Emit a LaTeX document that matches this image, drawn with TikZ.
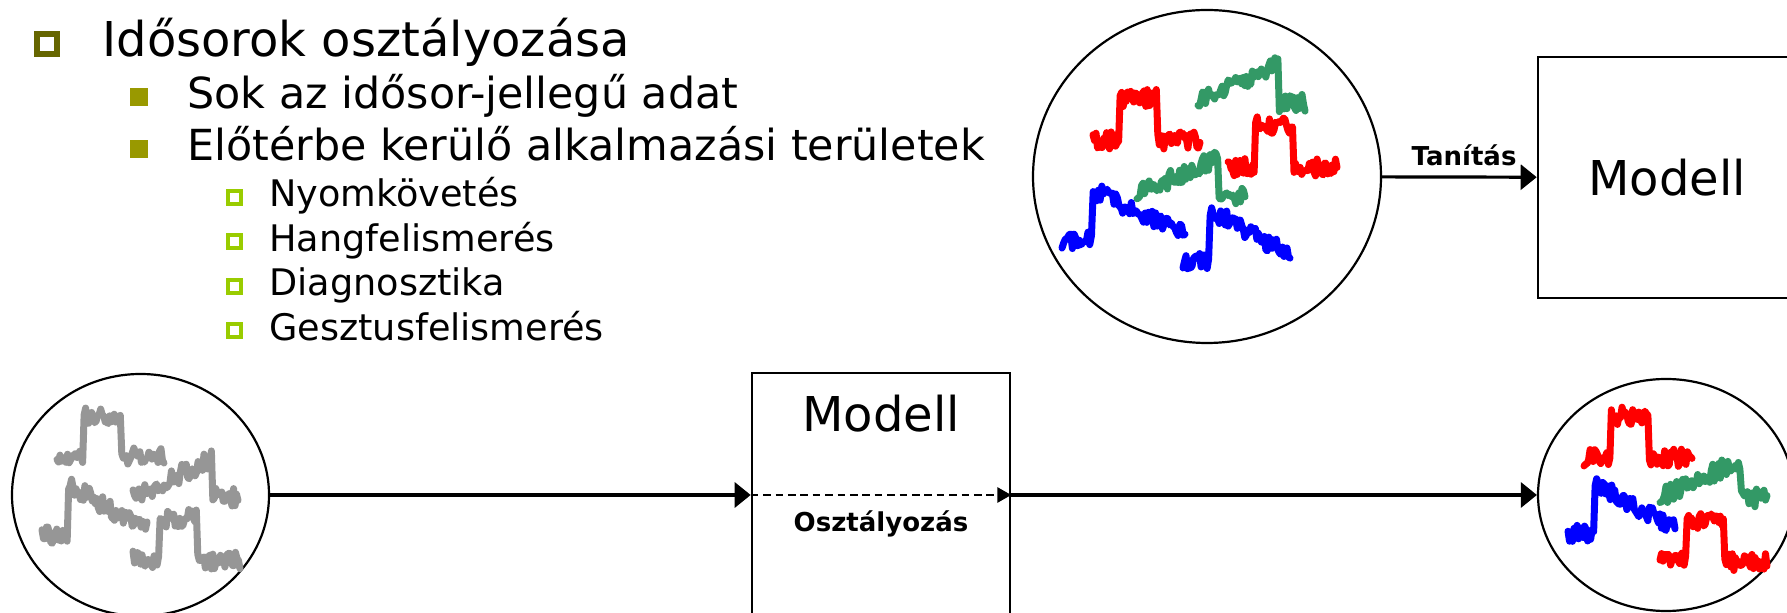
\documentclass[tikz,border=0pt]{standalone}
\usepackage{fontspec}
\setmainfont{DejaVu Sans}
\usepackage{tikz}
\usetikzlibrary{shapes.geometric, arrows.meta, positioning, calc}

\definecolor{olivedark}{RGB}{102,102,0}
\definecolor{olivemid}{RGB}{153,153,0}
\definecolor{limegreen}{RGB}{153,204,0}
\definecolor{sigred}{RGB}{255,0,0}
\definecolor{siggreen}{RGB}{51,153,102}
\definecolor{sigblue}{RGB}{0,0,255}
\definecolor{siggray}{RGB}{150,150,150}

% noisy series: shape, colour, x, y, width
\newcommand{\tsig}[5]{\draw[sig, #2] plot[domain=0:1, samples=72] ({#3+#5*\x}, {#4+#1(\x)+9*rand});}

\begin{document}
\begin{tikzpicture}[x=0.5pt, y=-0.5pt,
  declare function={pulse(\t)=-42*(\t>0.24)*(\t<0.6);
                    ramp(\t)=-38*\t/0.75*(\t<0.75);
                    decay(\t)=(\t>0.25)*(-50+45*(\t-0.25)/0.75);},
  sig/.style={line width=3.5pt, line join=round, line cap=round},
  tbul/.style={draw=olivedark, line width=3pt, fill=white, minimum size=10pt, inner sep=0pt},
  sbul/.style={fill=olivemid, minimum size=9pt, inner sep=0pt},
  ssbul/.style={draw=limegreen, line width=2pt, fill=white, minimum size=6.5pt, inner sep=0pt},
  hone/.style={anchor=base west, inner sep=0pt, font=\fontsize{24}{29}\selectfont},
  htwo/.style={anchor=base west, inner sep=0pt, font=\fontsize{21.4}{26}\selectfont},
  hthree/.style={anchor=base west, inner sep=0pt, font=\fontsize{18.3}{22}\selectfont},
  lbl/.style={inner sep=0pt, font=\fontsize{13}{16}\selectfont\bfseries},
  mtxt/.style={inner sep=0pt, font=\fontsize{24}{29}\selectfont},
  blob/.style={ellipse, draw, line width=1.1pt, inner sep=0pt},
  box/.style={rectangle, draw, line width=1.3pt, inner sep=0pt},
  conn/.style={line width=1.6pt, -{Triangle[length=8pt,width=12.5pt]}},
  dconn/.style={line width=1.4pt, dash pattern=on 3.8pt off 2.4pt, -{Triangle[length=7pt,width=7.5pt]}}]
\useasboundingbox (0,0) rectangle (1787,613);
\clip (0,0) rectangle (1787,613);
\pgfmathsetseed{42}

% Bullet list
\node[tbul] (b0) at (47,44) {};
\node[hone] (t0) at (102,57) {Idősorok osztályozása};
\node[sbul] (b1) at (139,97) {};
\node[htwo] (t1) at (187,109) {Sok az idősor-jellegű adat};
\node[sbul] (b2) at (139,149) {};
\node[htwo] (t2) at (187,161) {Előtérbe kerülő alkalmazási területek};
\node[ssbul] (b3) at (234,198) {};
\node[hthree] (t3) at (269,207) {Nyomkövetés};
\node[ssbul] (b4) at (234,242) {};
\node[hthree] (t4) at (269,252) {Hangfelismerés};
\node[ssbul] (b5) at (234,287) {};
\node[hthree] (t5) at (269,296) {Diagnosztika};
\node[ssbul] (b6) at (234,331) {};
\node[hthree] (t6) at (269,341) {Gesztusfelismerés};

% Training
\node[blob, minimum width=174pt, minimum height=166.5pt] (circT) at (1207,176.5) {};
\node[box, mtxt, minimum width=129pt, minimum height=120.5pt] (modelT) at (1667,177.5) {Modell};
\draw[conn] (circT) -- (modelT) node[pos=0.53, above=5pt, lbl] (tanit) {Tanítás};

\tsig{pulse}{sigred}{1093}{140}{107}
\tsig{ramp}{siggreen}{1198}{103}{107}
\tsig{pulse}{sigred}{1228}{167}{109}
\tsig{ramp}{siggreen}{1137}{195}{108}
\tsig{decay}{sigblue}{1062}{240}{123}
\tsig{decay}{sigblue}{1183}{260}{107}

% Classification
\node[blob, minimum width=128.5pt, minimum height=121pt] (circL) at (140.5,495) {};
\node[box, minimum width=129pt, minimum height=124pt] (modelB) at (881,497) {};
\node[mtxt, anchor=base] (modelBtxt) at (881,432) {Modell};
\node[blob, minimum width=128pt, minimum height=116pt] (circR) at (1666,495) {};
\coordinate (inB) at (modelB.west |- circL);
\coordinate (outB) at (modelB.east |- circL);
\draw[conn] (circL) -- (inB);
\draw[dconn] (inB) -- (outB);
\draw[conn] (outB) -- (circR);
\node[lbl, anchor=base] (osztlbl) at (881,532) {Osztályozás};

\tsig{pulse}{siggray}{57}{457}{107}
\tsig{decay}{siggray}{42}{535}{105}
\tsig{ramp}{siggray}{133}{497}{105}
\tsig{pulse}{siggray}{133}{560}{107}

\tsig{pulse}{sigred}{1584}{458}{108}
\tsig{decay}{sigblue}{1568}{533}{107}
\tsig{ramp}{siggreen}{1660}{498}{107}
\tsig{pulse}{sigred}{1660}{562}{107}
\end{tikzpicture}
\end{document}
